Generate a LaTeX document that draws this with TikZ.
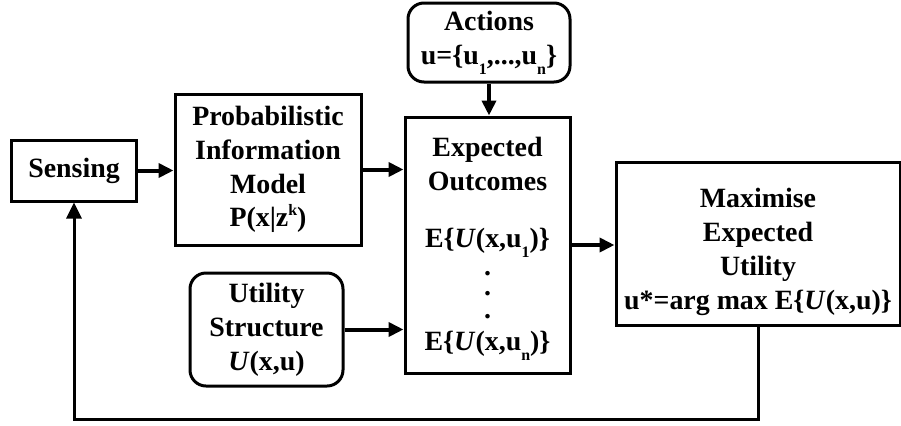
\documentclass[tikz,border=0pt]{standalone}
\usepackage{fontspec}
\setmainfont{Liberation Serif}
\usetikzlibrary{arrows.meta}

% lowered / raised small indices in the bold serif text
\newcommand{\lowidx}[1]{\raisebox{-0.36em}{\fontsize{16}{16}\selectfont #1}}
\newcommand{\highidx}[1]{\raisebox{0.42em}{\fontsize{16}{16}\selectfont #1}}
\newcommand{\UU}{\textit{U}}
% vertical ellipsis; only its lowest dot takes room in the line
\newcommand{\dotcolumn}{\raisebox{0pt}[4bp][0pt]{\vbox{\offinterlineskip\hbox{.}\kern16bp\hbox{.}\kern18bp\hbox{.}}}}

\begin{document}
\begin{tikzpicture}[x=1bp,y=-1bp,
  every node/.style={font=\bfseries\fontsize{28}{34}\selectfont, align=center, inner sep=0pt},
  blockbox/.style={draw, line width=3bp, minimum width=#1},
  softbox/.style={draw, line width=3bp, rounded corners=16bp, minimum width=#1},
  flow/.style={line width=4bp, -{Triangle[length=15bp,width=14bp]}},
  loopline/.style={line width=3bp, -{Triangle[length=16bp,width=15bp]}}
]
\useasboundingbox (0,0) rectangle (901,425);

\node[blockbox=125bp, minimum height=61bp] (sensing) at (74,170.5) {Sensing};
\node[blockbox=186bp, minimum height=151bp] (prob) at (268,169.5)
  {Probabilistic\\Information\\Model\\P(x|z\highidx{k})};
\node[softbox=153bp, minimum height=113bp] (util) at (266.5,329.5)
  {Utility\\Structure\\\UU(x,u)};
\node[softbox=162bp, minimum height=79bp] (actions) at (489,42.5)
  {Actions\\u=\{u\lowidx{1},...,u\lowidx{n}\}};
\node[blockbox=165bp, minimum height=256bp] (expected) at (487.5,245)
  {\rule{0pt}{27bp}Expected\\Outcomes\\[23bp]E\{\UU(x,u\lowidx{1})\}\\[37bp]\dotcolumn\\[-2bp]E\{\UU(x,u\lowidx{n})\}};
\node[blockbox=284bp, minimum height=163bp] (maxim) at (758,243.5)
  {\rule{0pt}{36bp}Maximise\\Expected\\Utility\\u*=arg max E\{\UU(x,u)\}};

\draw[flow] (sensing.east) -- (sensing.east -| prob.west);
\draw[flow] (prob.east) -- (prob.east -| expected.west);
\draw[flow] (util.east) -- (util.east -| expected.west);
\draw[flow] (actions.south) -- (actions.south |- expected.north);
\draw[flow] (expected.east) -- (expected.east -| maxim.west);

% feedback from the decision back to sensing
\coordinate (loop) at (400,419);
\draw[loopline] (maxim.south) |- (loop) -| (sensing.south);
\end{tikzpicture}
\end{document}
